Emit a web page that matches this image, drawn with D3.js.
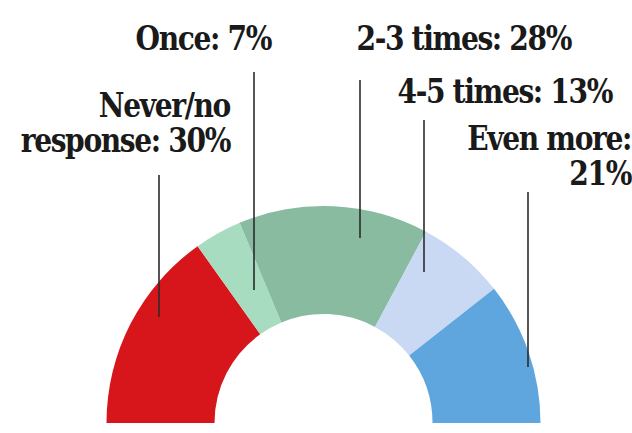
<!DOCTYPE html>
<html>
<head>
<meta charset="utf-8">
<script src="https://cdn.jsdelivr.net/npm/d3@7"></script>
<style>
  html, body { margin: 0; padding: 0; background: #fff; }
  svg { display: block; }
</style>
</head>
<body>
<svg id="chart" width="632" height="433"></svg>
<script>
// ---- data ----
const categories = ["Never/no response", "Once", "2-3 times", "4-5 times", "Even more"];
const values = [30, 7, 28, 13, 21];
const labelLines = [["Never/no", "response: 30%"], ["Once: 7%"], ["2-3 times: 28%"], ["4-5 times: 13%"], ["Even more:", "21%"]];
const colors = ["#d7161b", "#a8dcc1", "#88bb9f", "#c9d8f3", "#5fa5de"];

// ---- layout (annotation placement) ----
const labelLayout = [
  { x: 230, y: 117, lineX: 159, lineY1: 175, lineY2: 317 },
  { x: 271, y: 50,  lineX: 254, lineY1: 72,  lineY2: 290 },
  { x: 571, y: 50,  lineX: 360, lineY1: 80,  lineY2: 238 },
  { x: 612, y: 103, lineX: 424, lineY1: 120, lineY2: 272 },
  { x: 631, y: 150, lineX: 528, lineY1: 192, lineY2: 367 }
];
const lineGap = 35;
const squeeze = 0.92;

const svg = d3.select("#chart");
const cx = 323.5, cy = 423, R = 217, r = 109;

const pie = d3.pie().sort(null).value(d => d)
  .startAngle(-Math.PI / 2).endAngle(Math.PI / 2);
const arc = d3.arc().innerRadius(r).outerRadius(R);

const g = svg.append("g").attr("transform", `translate(${cx},${cy})`);
g.selectAll("path").data(pie(values)).join("path")
  .attr("d", arc)
  .attr("fill", (d, i) => colors[i]);

// leader lines
svg.append("g").selectAll("line").data(labelLayout).join("line")
  .attr("x1", d => d.lineX).attr("x2", d => d.lineX)
  .attr("y1", d => d.lineY1).attr("y2", d => d.lineY2)
  .attr("stroke", "#2b2b2b").attr("stroke-width", 1.6);

// labels
const lab = svg.append("g")
  .attr("font-family", "'DejaVu Serif Condensed', 'DejaVu Serif', serif")
  .attr("font-stretch", "condensed")
  .attr("font-weight", "bold")
  .attr("font-size", 34)
  .attr("fill", "#1a1a1a")
  .attr("letter-spacing", -1.5);

categories.forEach((c, i) => {
  const L = labelLayout[i];
  const t = lab.append("text")
    .attr("transform", `translate(${L.x},${L.y}) scale(${squeeze},1)`)
    .attr("text-anchor", "end");
  labelLines[i].forEach((s, k) => {
    t.append("tspan").attr("x", 0).attr("dy", k === 0 ? 0 : lineGap).text(s);
  });
});
</script>
</body>
</html>
